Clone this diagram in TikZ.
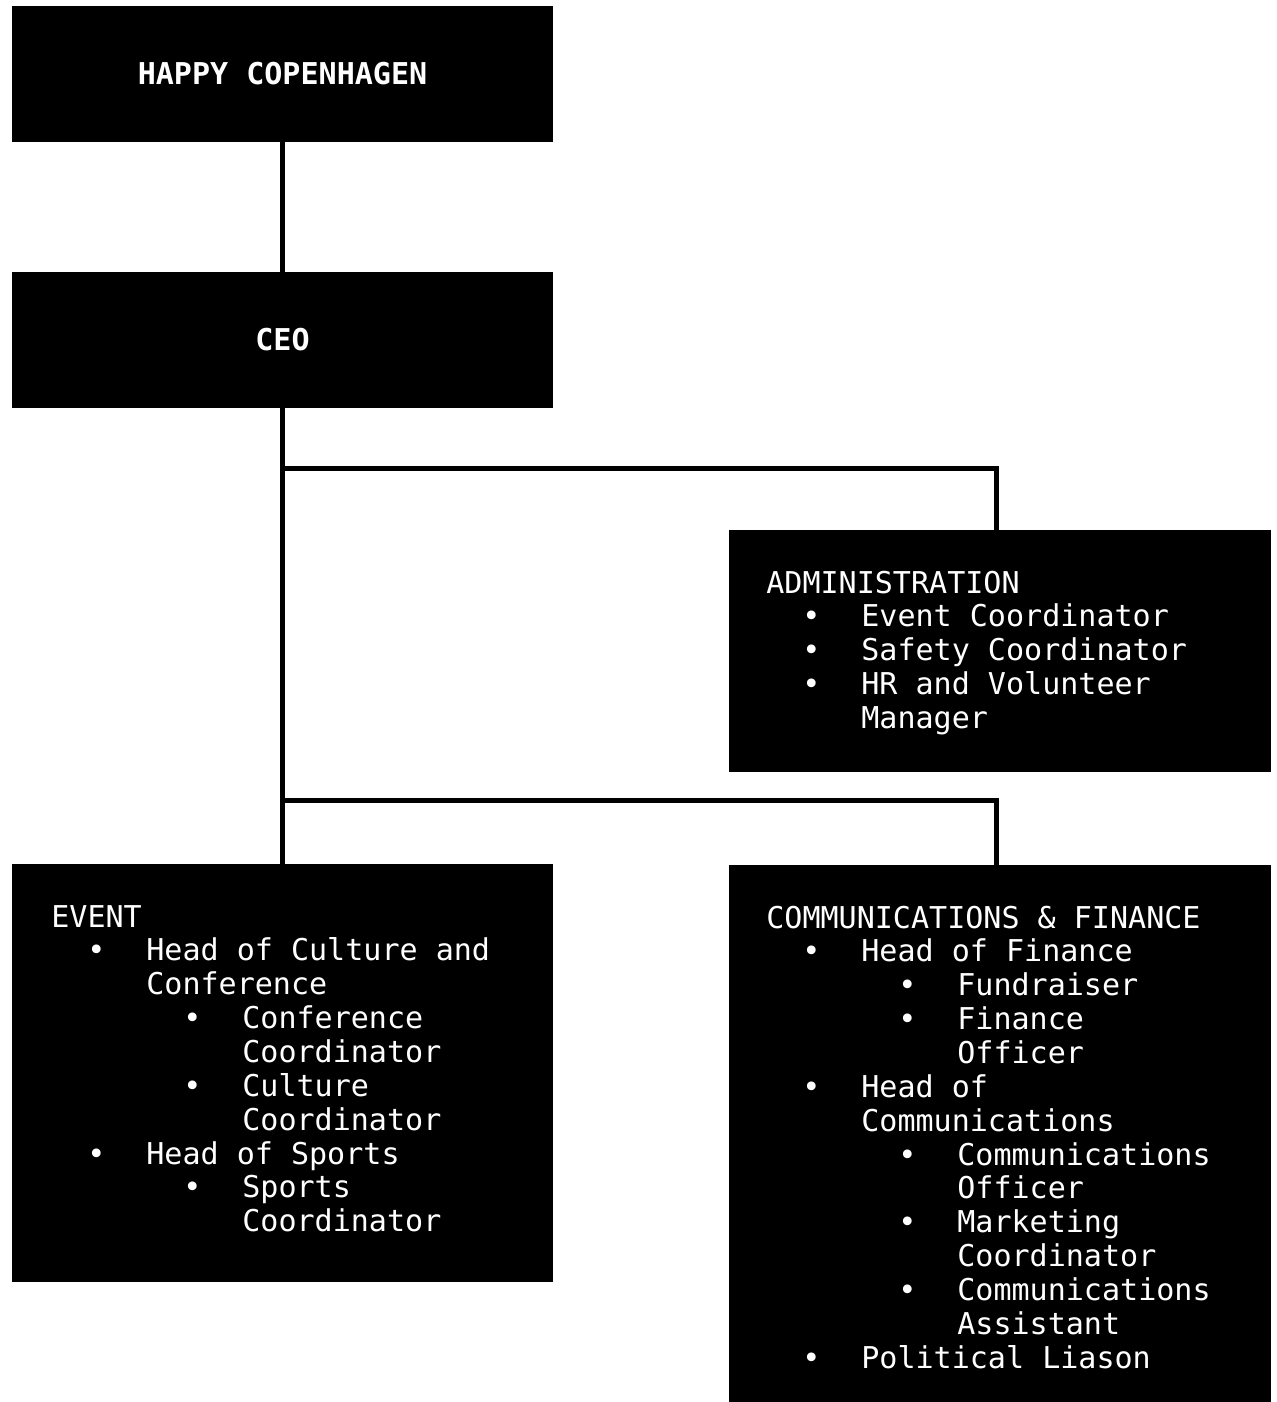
\documentclass[tikz,border=0pt]{standalone}
\usepackage{fontspec}
\setmonofont{DejaVu Sans Mono}
\newcommand{\fsz}{\fontsize{17.1pt}{19.27pt}\selectfont}
\newcommand{\bulA}{\hspace*{0.72cm}\makebox[1.18cm][l]{•}}
\newcommand{\indA}{\hspace*{1.90cm}}
\newcommand{\bulB}{\hspace*{2.64cm}\makebox[1.18cm][l]{•}}
\newcommand{\indB}{\hspace*{3.82cm}}
\tikzset{
  unit/.style={fill=black, text=white, inner sep=0pt, minimum width=10.82cm, minimum height=2.72cm, font=\ttfamily\bfseries\fsz},
  dept/.style={fill=black, inner sep=0pt, minimum width=10.84cm},
  roles/.style={text=white, inner sep=0pt, anchor=base west, font=\ttfamily\fsz},
  link/.style={line width=0.1cm}
}
\begin{document}
\begin{tikzpicture}
\useasboundingbox (0,0) rectangle (25.52,-28.04);
\path (5.65,-1.48) node[unit] (hc) {HAPPY COPENHAGEN};
\path (5.65,-6.80) node[unit] (ceo) {CEO};
\path (20.0,-13.02) node[dept, minimum height=4.84cm] (admin) {};
\path (5.65,-21.46) node[dept, minimum width=10.82cm, minimum height=8.36cm] (event) {};
\path (20.0,-22.67) node[dept, minimum height=10.74cm] (comms) {};
% box texts
\path (15.32,-11.86) node[roles] (admintxt) {\parbox[t]{10cm}{\raggedright
ADMINISTRATION\\
\bulA Event Coordinator\\
\bulA Safety Coordinator\\
\bulA HR and Volunteer\\
\indA Manager}};
\path (1.02,-18.54) node[roles] (eventtxt) {\parbox[t]{10cm}{\raggedright
EVENT\\
\bulA Head of Culture and\\
\indA Conference\\
\bulB Conference\\
\indB Coordinator\\
\bulB Culture\\
\indB Coordinator\\
\bulA Head of Sports\\
\bulB Sports\\
\indB Coordinator}};
\path (15.32,-18.56) node[roles] (commstxt) {\parbox[t]{10cm}{\raggedright
COMMUNICATIONS \& FINANCE\\
\bulA Head of Finance\\
\bulB Fundraiser\\
\bulB Finance\\
\indB Officer\\
\bulA Head of\\
\indA Communications\\
\bulB Communications\\
\indB Officer\\
\bulB Marketing\\
\indB Coordinator\\
\bulB Communications\\
\indB Assistant\\
\bulA Political Liason}};
% connectors
\coordinate (j1) at (5.68,-9.36);
\coordinate (j2) at (5.68,-16.0);
\draw [link] (hc) -- (ceo);
\draw [link] (ceo) -- (event);
\draw [link] (j1) -| ([xshift=-0.08cm]admin.north);
\draw [link] (j2) -| ([xshift=-0.08cm]comms.north);
\end{tikzpicture}
\end{document}
